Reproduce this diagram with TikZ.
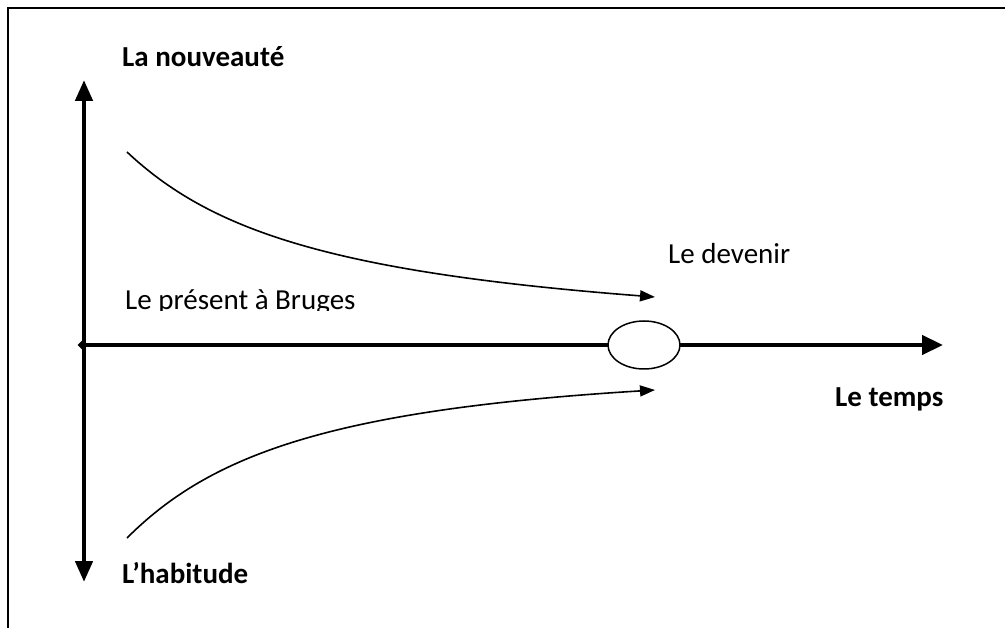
\documentclass[tikz,border=0pt]{standalone}
\usepackage{fontspec}
\setmainfont{Carlito}
\usetikzlibrary{arrows.meta,shapes.geometric}
\begin{document}
\begin{tikzpicture}[x=1pt,y=-1pt,
  axisline/.style={line width=4.5pt,-{Triangle[length=21pt,width=19pt]}},
  vaxis/.style={line width=4.5pt,{Triangle[length=21pt,width=17pt]}-{Triangle[length=21pt,width=17pt]}},
  flow/.style={line width=1.6pt,-{Triangle[length=15pt,width=11pt]}},
  lab/.style={font=\fontsize{29}{35}\selectfont,inner sep=0pt,anchor=base west},
  blab/.style={font=\fontsize{29}{35}\selectfont\bfseries,inner sep=0pt,anchor=base west},
  frame/.style={line width=2pt}]
\useasboundingbox (0,0) rectangle (1005,628);
% frame
\coordinate (fa) at (8,628);
\coordinate (fb) at (8,8);
\coordinate (fc) at (1005,8);
\draw[frame] (fa) -- (fb) -- (fc);
% axes
\coordinate (Vtop) at (84,80);
\coordinate (Vbot) at (84,582);
\coordinate (Hend) at (943,345);
\node[diamond,fill,inner sep=0pt,minimum size=9pt] (D) at (82,345) {};
\draw[vaxis] (Vtop) -- (Vbot);
\draw[axisline] (D.center) -- (Hend);
\node[ellipse,draw,fill=white,line width=1.5pt,minimum width=72pt,minimum height=48pt,inner sep=0pt] (E) at (644,345) {};
% curves
\coordinate (u0) at (127,152);
\coordinate (u1) at (655,297);
\draw[flow] (u0) .. controls (210,230) and (330,272) .. (u1);
\coordinate (l0) at (127,538);
\coordinate (l1) at (655,390);
\draw[flow] (l0) .. controls (210,455) and (330,410) .. (l1);
% labels
\node[blab] (nouv) at (122,67) {La nouveauté};
\node[blab] (hab) at (122,583) {L’habitude};
\node[blab] (temps) at (835,407) {Le temps};
\node[lab] (dev) at (668,264) {Le devenir};
\begin{scope}
\clip (100,270) rectangle (400,311);
\node[lab] (pres) at (125,310) {Le présent à Bruges};
\end{scope}
\end{tikzpicture}
\end{document}
